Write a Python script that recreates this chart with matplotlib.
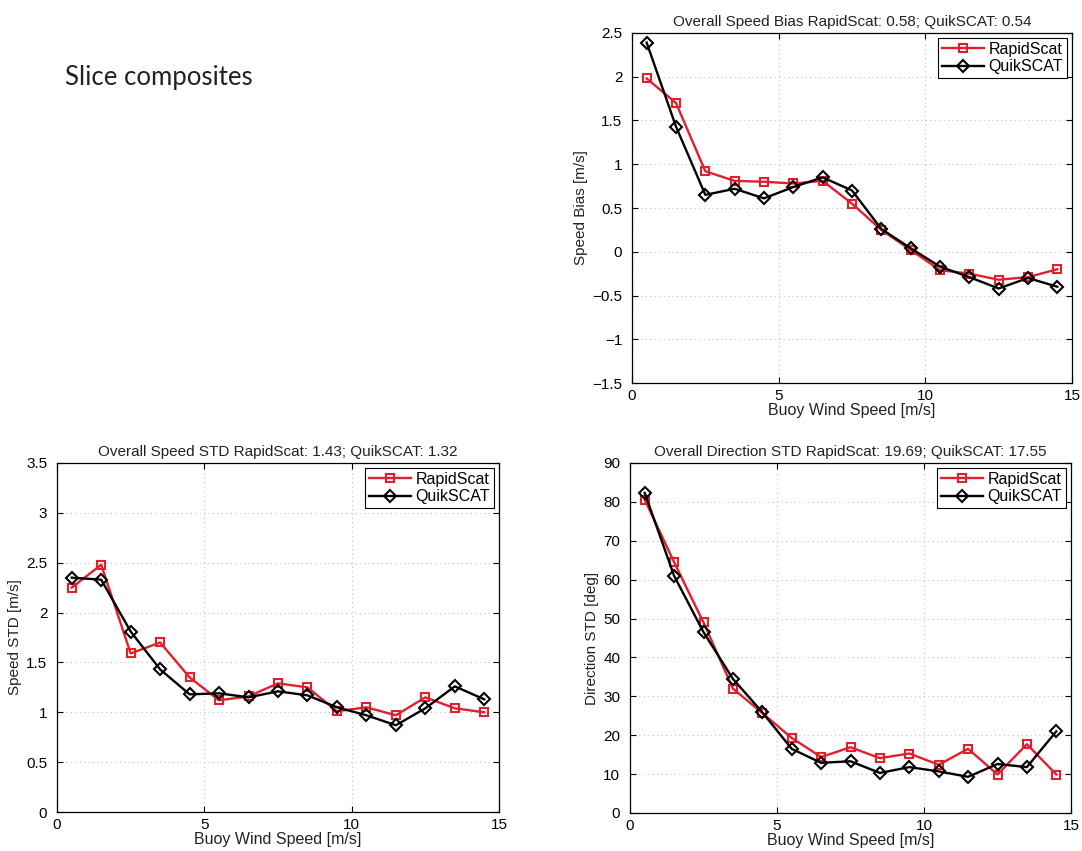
import matplotlib
matplotlib.use("Agg")
import matplotlib.pyplot as plt

x_speed = [0.5, 1.5, 2.5, 3.5, 4.5, 5.5, 6.5, 7.5, 8.5, 9.5, 10.5, 11.5, 12.5, 13.5, 14.5]

bias_rapid = [1.98, 1.70, 0.92, 0.81, 0.80, 0.78, 0.81, 0.55, 0.25, 0.02, -0.21, -0.25, -0.32, -0.29, -0.20]
bias_quik = [2.39, 1.43, 0.65, 0.72, 0.61, 0.74, 0.85, 0.70, 0.26, 0.04, -0.17, -0.29, -0.42, -0.30, -0.40]

sstd_rapid = [2.25, 2.48, 1.59, 1.70, 1.35, 1.12, 1.16, 1.29, 1.25, 1.01, 1.05, 0.97, 1.15, 1.04, 1.00]
sstd_quik = [2.35, 2.33, 1.81, 1.43, 1.18, 1.19, 1.15, 1.21, 1.17, 1.05, 0.97, 0.87, 1.04, 1.26, 1.13]

dstd_rapid = [80.6, 64.5, 49.0, 32.0, 25.7, 19.3, 14.4, 16.9, 14.1, 15.3, 12.4, 16.5, 9.9, 17.7, 9.9]
dstd_quik = [82.3, 61.0, 46.5, 34.5, 25.9, 16.5, 12.9, 13.3, 10.3, 11.8, 10.7, 9.3, 12.6, 11.8, 21.0]

series_names = ["RapidScat", "QuikSCAT"]
titles = ["Overall Speed Bias RapidScat: 0.58; QuikSCAT: 0.54",
          "Overall Speed STD RapidScat: 1.43; QuikSCAT: 1.32",
          "Overall Direction STD RapidScat: 19.69; QuikSCAT: 17.55"]
ylabels = ["Speed Bias [m/s]", "Speed STD [m/s]", "Direction STD [deg]"]
xlabel = "Buoy Wind Speed [m/s]"

plt.rcParams['font.family'] = ['Liberation Sans', 'DejaVu Sans']

W, H = 1082, 851
fig = plt.figure(figsize=(W / 100, H / 100), dpi=100)

def box(l, t, r, b):
    return [l / W, 1 - b / H, (r - l) / W, (b - t) / H]

RED = '#e0202c'

def panel(rect, yr, yq, title, ylabel, ylim, yticks, yticklabels):
    ax = fig.add_axes(rect)
    ax.plot(x_speed, yr, color=RED, lw=1.7, marker='s', ms=6,
            mfc='none', mec=RED, mew=1.5, label=series_names[0])
    ax.plot(x_speed, yq, color='black', lw=1.7, marker='D', ms=6,
            mfc='none', mec='black', mew=1.5, label=series_names[1])
    ax.set_xlim(0, 15)
    ax.set_ylim(*ylim)
    ax.set_xticks([0, 5, 10, 15])
    ax.set_yticks(yticks)
    ax.set_yticklabels(yticklabels)
    ax.grid(True, linestyle=(0, (1, 3)), color='#c0c0c0', lw=0.8)
    ax.tick_params(direction='in', labelsize=11, length=4, top=True, right=True, pad=4)
    ax.tick_params(axis='y', pad=7)
    ax.set_title(title, fontsize=11, pad=5, color='#222222')
    ax.set_xlabel(xlabel, fontsize=11.5, labelpad=0, color='#222222')
    ax.set_ylabel(ylabel, fontsize=11, labelpad=3, color='#222222')
    for s in ax.spines.values():
        s.set_linewidth(0.9)
    leg = ax.legend(loc='upper right', fontsize=11.5, fancybox=False, framealpha=1,
                    edgecolor='black', borderaxespad=0.3, handlelength=2.6,
                    borderpad=0.25, labelspacing=0.15, handletextpad=0.3)
    leg.get_frame().set_linewidth(0.8)
    return ax

def fmt(vals):
    return [('%g' % v).replace('-', '\u2212') for v in vals]

yt1 = [-1.5, -1, -0.5, 0, 0.5, 1, 1.5, 2, 2.5]
panel(box(632, 33, 1072, 383), bias_rapid, bias_quik, titles[0], ylabels[0],
      (-1.5, 2.5), yt1, fmt(yt1))

yt2 = [0, 0.5, 1, 1.5, 2, 2.5, 3, 3.5]
panel(box(57, 463, 499, 812), sstd_rapid, sstd_quik, titles[1], ylabels[1],
      (0, 3.5), yt2, fmt(yt2))

yt3 = [0, 10, 20, 30, 40, 50, 60, 70, 80, 90]
panel(box(630, 463, 1071, 813), dstd_rapid, dstd_quik, titles[2], ylabels[2],
      (0, 90), yt3, fmt(yt3))

fig.text(65 / W, 1 - 78 / H, "Slice composites", fontsize=18.5, family=['Lato', 'DejaVu Sans'],
         va='center', ha='left', color='#222222')

fig.savefig("out.png", dpi=100)
